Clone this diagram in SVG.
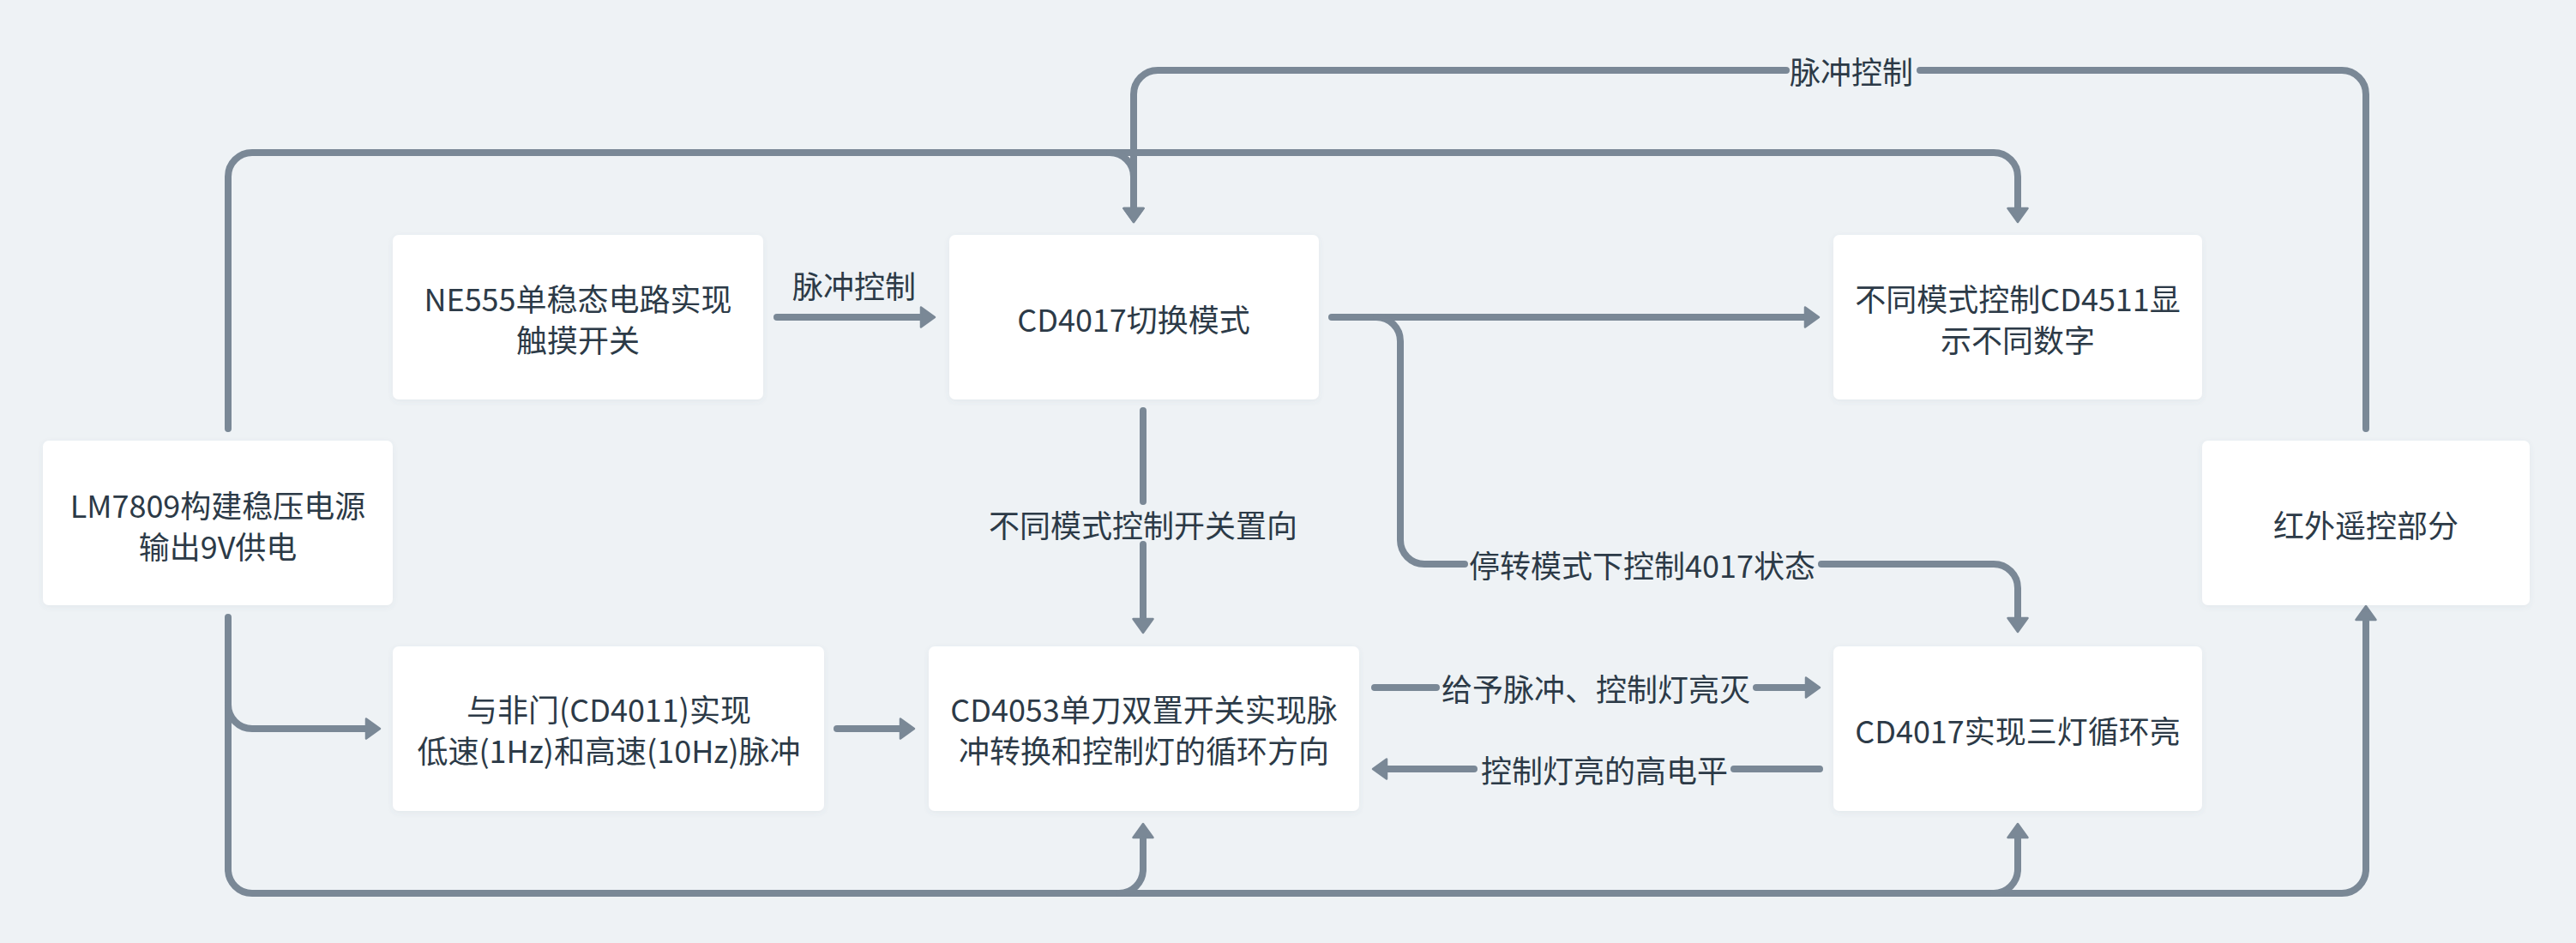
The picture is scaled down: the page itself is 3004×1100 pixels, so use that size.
<svg xmlns="http://www.w3.org/2000/svg" width="3004" height="1100" viewBox="0 0 3004 1100">
<style>
.bg{fill:#eef2f5}
.box{fill:#ffffff;filter:url(#sh)}
.t{font-family:"Noto Sans CJK SC","Noto Sans",sans-serif;font-size:36px;fill:#2c3a47;text-anchor:middle;dominant-baseline:central}
.c{fill:none;stroke:#7a8896;stroke-width:8;stroke-linecap:round;stroke-linejoin:round}
.a{marker-end:url(#arr)}
</style>
<defs>
<filter id="sh" x="-10%" y="-10%" width="120%" height="130%">
<feDropShadow dx="0" dy="2" stdDeviation="3" flood-color="#5a6a7a" flood-opacity="0.08"/>
</filter>
<marker id="arr" markerUnits="userSpaceOnUse" viewBox="-3 -16 24 32" markerWidth="24" markerHeight="32" refX="0" refY="0" orient="auto">
<path d="M0,-11.5 L16,0 L0,11.5 z" fill="#7a8896" stroke="#7a8896" stroke-width="2.5" stroke-linejoin="round"/>
</marker>
</defs>
<rect class="bg" x="0" y="0" width="3004" height="1100"/>

<g id="connectors">
<path class="c a" d="M266,500 V206 A28,28 0 0 1 294,178 H2325 A28,28 0 0 1 2353,206 V243"/>
<path class="c a" d="M1294,178 A28,28 0 0 1 1322,206 V243"/>
<path class="c a" d="M2759,500 V110 A28,28 0 0 0 2731,82 H2239 M2083,82 H1350 A28,28 0 0 0 1322,110 V243"/>
<path class="c a" d="M906,370 H1074"/>
<path class="c a" d="M1553,370 H2105"/>
<path class="c a" d="M1605,370 A28,28 0 0 1 1633,398 V630 A28,28 0 0 0 1661,658 H1708 M2124,658 H2325 A28,28 0 0 1 2353,686 V721"/>
<path class="c a" d="M1333,479 V585 M1333,635 V722"/>
<path class="c a" d="M266,720 V1014 A28,28 0 0 0 294,1042 H2731 A28,28 0 0 0 2759,1014 V723"/>
<path class="c a" d="M266,822 A28,28 0 0 0 294,850 H427"/>
<path class="c a" d="M1305,1042 A28,28 0 0 0 1333,1014 V977"/>
<path class="c a" d="M2325,1042 A28,28 0 0 0 2353,1014 V977"/>
<path class="c a" d="M976,850 H1050"/>
<path class="c a" d="M1603,802 H1675 M2048,802 H2106"/>
<path class="c a" d="M2122,897 H2022 M1719,897 H1617"/>
<text class="t" x="2159" y="82">脉冲控制</text>
<text class="t" x="996" y="332">脉冲控制</text>
<text class="t" x="1915" y="658">停转模式下控制4017状态</text>
<text class="t" x="1333" y="611">不同模式控制开关置向</text>
<text class="t" x="1861" y="802">给予脉冲、控制灯亮灭</text>
<text class="t" x="1871" y="897">控制灯亮的高电平</text>
</g>

<g id="n-lm7809">
<rect class="box" x="50" y="514" width="408" height="192" rx="7"/>
<text class="t" x="254" y="588">LM7809构建稳压电源</text>
<text class="t" x="254" y="636">输出9V供电</text>
</g>
<g id="n-ne555">
<rect class="box" x="458" y="274" width="432" height="192" rx="7"/>
<text class="t" x="674" y="347">NE555单稳态电路实现</text>
<text class="t" x="674" y="395">触摸开关</text>
</g>
<g id="n-cd4017-mode">
<rect class="box" x="1107" y="274" width="431" height="192" rx="7"/>
<text class="t" x="1322" y="371">CD4017切换模式</text>
</g>
<g id="n-cd4511">
<rect class="box" x="2138" y="274" width="430" height="192" rx="7"/>
<text class="t" x="2353" y="347">不同模式控制CD4511显</text>
<text class="t" x="2353" y="395">示不同数字</text>
</g>
<g id="n-ir">
<rect class="box" x="2568" y="514" width="382" height="192" rx="7"/>
<text class="t" x="2759" y="611">红外遥控部分</text>
</g>
<g id="n-nand">
<rect class="box" x="458" y="754" width="503" height="192" rx="7"/>
<text class="t" x="710" y="826">与非门(CD4011)实现</text>
<text class="t" x="710" y="874">低速(1Hz)和高速(10Hz)脉冲</text>
</g>
<g id="n-cd4053">
<rect class="box" x="1083" y="754" width="502" height="192" rx="7"/>
<text class="t" x="1334" y="826">CD4053单刀双置开关实现脉</text>
<text class="t" x="1334" y="874">冲转换和控制灯的循环方向</text>
</g>
<g id="n-cd4017-led">
<rect class="box" x="2138" y="754" width="430" height="192" rx="7"/>
<text class="t" x="2353" y="851">CD4017实现三灯循环亮</text>
</g>
</svg>
